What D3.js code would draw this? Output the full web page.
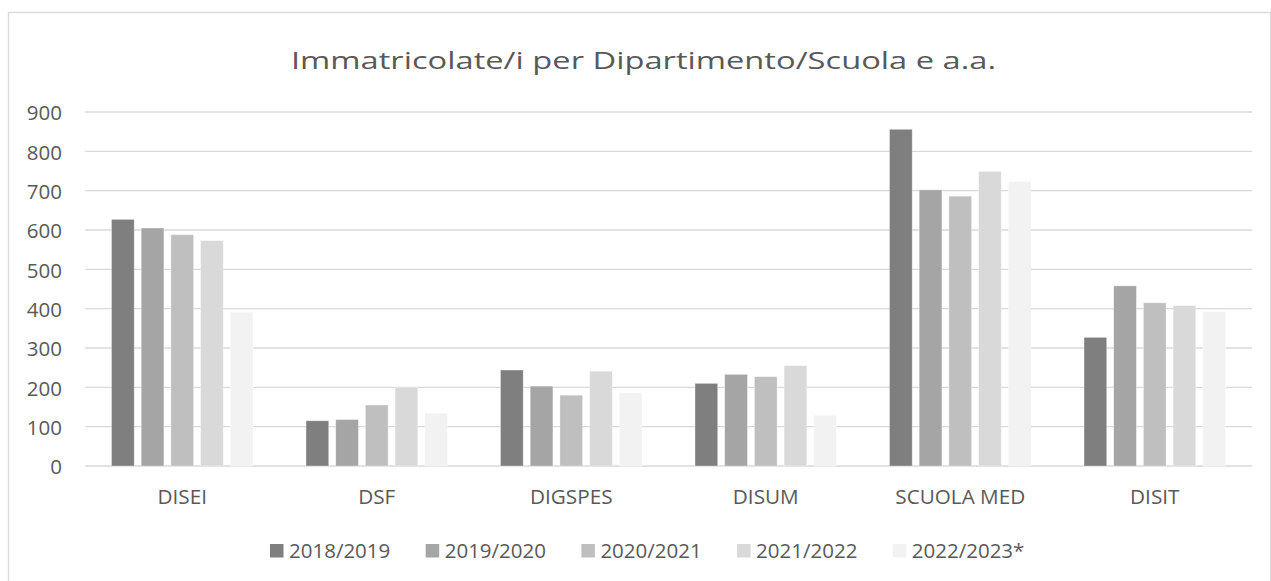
<!DOCTYPE html>
<html><head><meta charset="utf-8">
<script src="https://cdn.jsdelivr.net/npm/d3@7"></script>
<style>body{margin:0;background:#fff;} svg{display:block;}</style>
</head><body>
<script>
const categories = ["DISEI","DSF","DIGSPES","DISUM","SCUOLA MED","DISIT"];
const seriesNames = ["2018/2019","2019/2020","2020/2021","2021/2022","2022/2023*"];
const values2018 = [627,115,244,210,856,327];
const values2019 = [605,118,203,233,702,458];
const values2020 = [588,155,180,227,686,415];
const values2021 = [573,200,241,255,749,408];
const values2022 = [391,134,186,129,723,392];
const yTicks = [0,100,200,300,400,500,600,700,800,900];
const colors = ["#7f7f7f","#a5a5a5","#bfbfbf","#d9d9d9","#f2f2f2"];
const title = "Immatricolate/i per Dipartimento/Scuola e a.a.";

(function(){
const allSeries = [values2018,values2019,values2020,values2021,values2022];
const W = 1271, H = 581;
const FONT = "'Open Sans', 'Noto Sans', sans-serif";
const svg = d3.select("body").append("svg").attr("width",W).attr("height",H);
svg.append("rect").attr("width",W).attr("height",H).attr("fill","#fff");
svg.append("rect").attr("x",8.5).attr("y",12.5).attr("width",1262).attr("height",600)
  .attr("fill","none").attr("stroke","#d9d9d9").attr("stroke-width",1.3);

const pLeft = 85, pRight = 1252, pTop = 112, pBottom = 466;
const y = d3.scaleLinear().domain([0,900]).range([pBottom, pTop]);
const x0 = d3.scaleBand().domain(categories).range([pLeft,pRight]).paddingInner(0).paddingOuter(0);
const x1 = d3.scaleBand().domain(seriesNames).range([0,x0.bandwidth()]).paddingInner(0.236).paddingOuter(0.893);

svg.append("g").selectAll("line").data(yTicks).join("line")
  .attr("x1",pLeft).attr("x2",pRight).attr("y1",d=>y(d)).attr("y2",d=>y(d))
  .attr("stroke","#d9d9d9").attr("stroke-width",1.3);

const yAxis = d3.axisLeft(y).tickValues(yTicks).tickSize(0).tickPadding(0);
const yg = svg.append("g").attr("transform",`translate(62,0)`).call(yAxis);
yg.select(".domain").remove();
yg.selectAll("text").attr("font-family",FONT).attr("font-size",20.5).attr("fill","#595959").attr("dy","0.38em");

const groups = svg.append("g").selectAll("g").data(categories).join("g")
  .attr("transform",d=>`translate(${x0(d)},0)`);
groups.selectAll("rect").data((c,ci)=>seriesNames.map((s,si)=>({s,si,v:allSeries[si][ci]}))).join("rect")
  .attr("x",d=>x1(d.s)).attr("width",x1.bandwidth())
  .attr("y",d=>y(d.v)).attr("height",d=>y(0)-y(d.v))
  .attr("fill",d=>colors[d.si]).attr("stroke","#ffffff").attr("stroke-opacity",0.4).attr("stroke-width",0.8);

const xAxis = d3.axisBottom(x0).tickSize(0).tickPadding(0);
const xg = svg.append("g").attr("transform",`translate(0,503.5)`).call(xAxis);
xg.select(".domain").remove();
xg.selectAll("text").attr("font-family",FONT).attr("font-size",20.7).attr("fill","#595959").attr("dy","0");

svg.append("text").attr("x",643.5).attr("y",68.5).attr("text-anchor","middle")
  .attr("font-family",FONT).attr("font-size",23.5).attr("fill","#595959")
  .attr("textLength",705).attr("lengthAdjust","spacingAndGlyphs").text(title);

const legStep = 155.7, legStart = 270;
const lg = svg.append("g").selectAll("g").data(seriesNames).join("g")
  .attr("transform",(d,i)=>`translate(${legStart + i*legStep},0)`);
lg.append("rect").attr("x",0).attr("y",544).attr("width",13.5).attr("height",13.5).attr("fill",(d,i)=>colors[i]);
lg.append("text").attr("x",19).attr("y",557.7)
  .attr("font-family",FONT).attr("font-size",20.5).attr("fill","#595959").text(d=>d);
})();
</script>
</body></html>
